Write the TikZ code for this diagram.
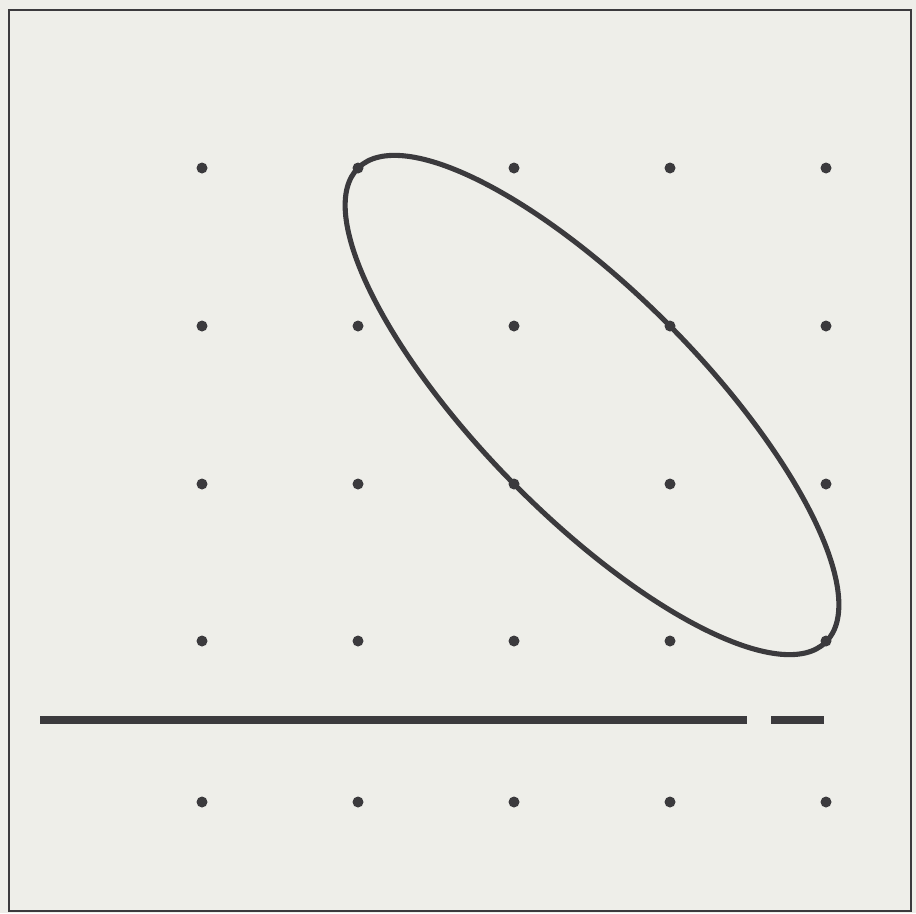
\documentclass[tikz,border=0pt]{standalone}
\usepackage{tikz}
\definecolor{paper}{HTML}{EEEEE9}
\definecolor{ink}{HTML}{3B3A3D}
\begin{document}
\begin{tikzpicture}[
    x=0.02cm, y=-0.02cm,
    dot/.style={circle, fill=ink, inner sep=0pt, minimum size=0.22cm},
    frame line/.style={draw=ink, line width=1.1pt},
    curve/.style={draw=ink, line width=2.9pt},
    bar/.style={draw=ink, line width=4pt}
]
    \fill[paper] (0,0) rectangle (916,913);
    \useasboundingbox (0,0) rectangle (916,913);
    \draw[frame line] (9,10) rectangle (911,911);
    % grid of dots
    \foreach \row/\y in {1/168, 2/326, 3/484, 4/641, 5/802} {
        \foreach \col/\x in {1/202, 2/358, 3/514, 4/670, 5/826} {
            \node[dot] (d\row\col) at (\x,\y) {};
        }
    }
    % tilted ellipse
    \draw[curve, shift={(592,405)}, rotate=-45.4] (0,0) ellipse [x radius=333, y radius=111];
    % broken rule
    \coordinate (barA) at (40,720);
    \coordinate (barB) at (747,720);
    \coordinate (barC) at (771,720);
    \coordinate (barD) at (824,720);
    \draw[bar] (barA) -- (barB);
    \draw[bar] (barC) -- (barD);
\end{tikzpicture}
\end{document}
